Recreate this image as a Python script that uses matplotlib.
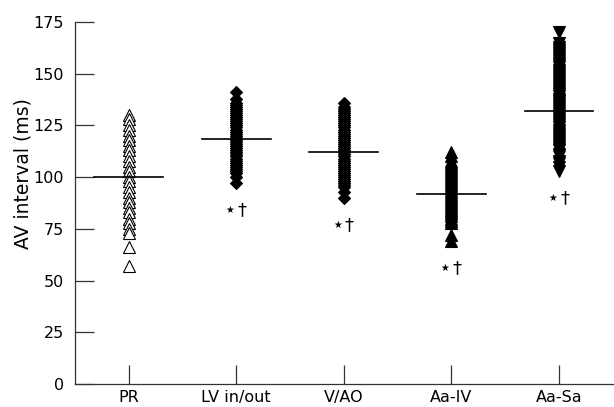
import matplotlib
matplotlib.use("Agg")
import matplotlib.pyplot as plt

# Grupos e valores (ms)
groups = ["PR", "LV in/out", "V/AO", "Aa-IV", "Aa-Sa"]
pr = [130, 128, 125, 123, 120, 118, 115, 113, 110, 108, 105, 103, 100,
      98, 95, 93, 90, 88, 85, 83, 80, 78, 75, 73, 66, 57]
lv_inout = [97, 100, 102, 103, 104, 105, 106, 107, 108, 109, 110, 111, 112,
            113, 114, 115, 116, 117, 118, 119, 120, 121, 122, 123, 124, 125,
            126, 127, 128, 129, 130, 131, 132, 133, 134, 135, 136, 138, 141]
v_ao = [90, 93, 95, 96, 97, 98, 99, 100, 101, 102, 103, 104, 105, 106, 107,
        108, 109, 110, 111, 112, 113, 114, 115, 116, 117, 118, 119, 120, 121,
        122, 123, 124, 125, 126, 127, 128, 129, 130, 131, 132, 133, 134, 136]
aa_iv = [69, 72, 78, 79, 80, 81, 82, 83, 84, 85, 86, 87, 88, 89, 90, 91, 92,
         93, 94, 95, 96, 97, 98, 99, 100, 101, 102, 103, 104, 105, 106, 107,
         108, 110, 112]
aa_sa = [103, 105, 107, 108, 110, 111, 113, 114, 115, 116, 117, 118, 119,
         120, 121, 122, 123, 124, 125, 126, 127, 128, 129, 130, 131, 132, 133,
         134, 135, 136, 137, 138, 139, 140, 141, 142, 143, 144, 145, 146, 147,
         148, 149, 150, 151, 152, 153, 154, 155, 156, 157, 158, 159, 160, 161,
         162, 163, 165, 170]
means = [100, 118.5, 112, 92, 132]
significant = [False, True, True, True, True]

series = [pr, lv_inout, v_ao, aa_iv, aa_sa]
markers = ["^", "D", "D", "^", "v"]
sizes = [8, 6.5, 6.5, 8, 8]

fig = plt.figure(figsize=(6.14, 4.07), dpi=100)
ax = fig.add_axes([0.122, 0.0565, 0.876, 0.8895])

for i, vals in enumerate(series):
    face = "white" if i == 0 else "black"
    ax.plot([i] * len(vals), vals, linestyle="none", marker=markers[i],
            markersize=sizes[i], markerfacecolor=face,
            markeredgecolor="black", markeredgewidth=0.8)
    # linha da média
    ax.plot([i - 0.32, i + 0.32], [means[i], means[i]], color="black", lw=1.2)
    if significant[i]:
        ymark = min(vals) - 13
        ax.text(i - 0.02, ymark, "\u2605", fontsize=7, ha="right", va="center")
        ax.text(i + 0.01, ymark, "\u2020", fontsize=13, ha="left", va="center")

ax.set_xlim(-0.5, 4.5)
ax.set_ylim(0, 175)
ax.set_yticks([0, 25, 50, 75, 100, 125, 150, 175])
ax.set_xticks(range(len(groups)))
ax.set_xticklabels(groups)
ax.tick_params(axis="both", direction="in", length=14, width=0.9,
               labelsize=11.5, colors="#333333", labelcolor="black")
ax.tick_params(axis="y", pad=8)
ax.tick_params(axis="x", pad=4)
ax.spines["top"].set_visible(False)
ax.spines["right"].set_visible(False)
for s in ["left", "bottom"]:
    ax.spines[s].set_linewidth(0.9)
    ax.spines[s].set_color("#333333")
ax.set_ylabel("AV interval (ms)", fontsize=13.5)
ax.yaxis.set_label_coords(-0.078, 0.58)

fig.savefig("out.png", dpi=100)
